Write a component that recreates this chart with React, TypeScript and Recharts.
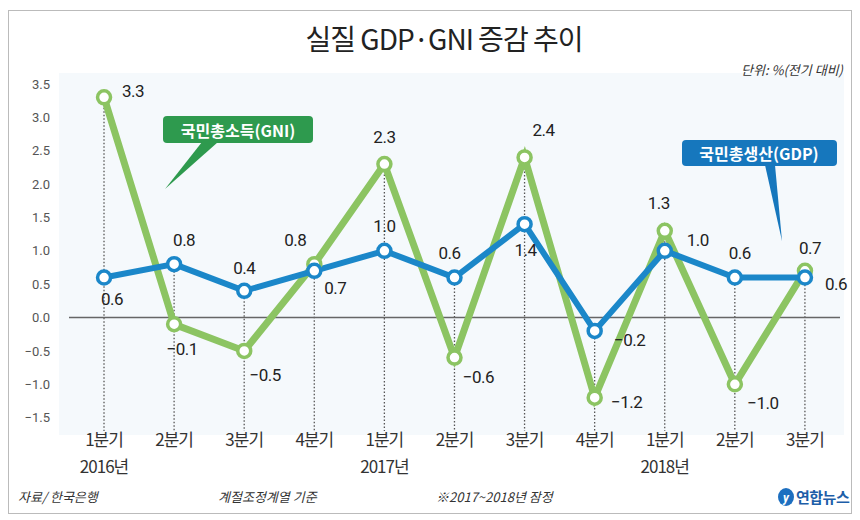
import { Bar, ComposedChart, Line, ReferenceLine, XAxis, YAxis } from 'recharts';

const quarters = ['1분기', '2분기', '3분기', '4분기', '1분기', '2분기', '3분기', '4분기', '1분기', '2분기', '3분기'];
const years = ['2016년', '', '', '', '2017년', '', '', '', '2018년', '', ''];
const gni = [3.3, -0.1, -0.5, 0.8, 2.3, -0.6, 2.4, -1.2, 1.3, -1.0, 0.7];
const gdp = [0.6, 0.8, 0.4, 0.7, 1.0, 0.6, 1.4, -0.2, 1.0, 0.6, 0.6];
const yTicks = [-1.5, -1.0, -0.5, 0.0, 0.5, 1.0, 1.5, 2.0, 2.5, 3.0, 3.5];

// label offsets (dx, dy) from each point
const gniLabelPos = [[29, -6], [8, 25], [21, 24], [-19, -24], [0, -27], [24, 19], [19, -27], [32, 4], [-6, -28], [28, 19], [5, -23]];
const gdpLabelPos = [[8, 21], [10, -24], [0, -23], [21, 17], [0, -25], [-5, -25], [1, 26], [35, 9], [33, -11], [5, -25], [31, 6]];

const Y_MIN = -1.7;
const GREEN = '#8cc462';
const BLUE = '#1b87c9';
const KR = '"Noto Sans CJK KR", "Noto Sans", sans-serif';
const NUM = 'Roboto, "Noto Sans", sans-serif';

const data = quarters.map((q, i) => ({
  idx: i,
  gni: gni[i],
  gdp: gdp[i],
  guide: [Y_MIN, Math.max(gni[i], gdp[i])],
}));

const fmt = (v: number) => (v < 0 ? '−' + Math.abs(v).toFixed(1) : v.toFixed(1));

const makeDot = (color: string, pos: number[][]) => (p: any) => {
  const { cx, cy, index, value } = p;
  const [dx, dy] = pos[index];
  return (
    <g key={`${color}-${index}`}>
      <circle cx={cx} cy={cy} r={6.5} fill="#fff" stroke={color} strokeWidth={3.5} />
      <text x={cx + dx} y={cy + dy} textAnchor="middle" dominantBaseline="central"
        fontFamily={NUM} fontSize={17} fill="#222" letterSpacing={-0.5}>
        {fmt(value)}
      </text>
    </g>
  );
};

const DottedGuide = (p: any) => {
  const cx = p.x + p.width / 2;
  return <line x1={cx} x2={cx} y1={p.y} y2={p.y + p.height} stroke="#555" strokeWidth={1.3} strokeDasharray="1.5 2" />;
};

const XTick = (p: any) => {
  const i = p.payload.value;
  return (
    <g>
      <text x={p.x} y={p.y + 15} textAnchor="middle" fontFamily={KR} fontSize={17} fill="#333" letterSpacing={-1}>{quarters[i]}</text>
      {years[i] && (
        <text x={p.x} y={p.y + 42} textAnchor="middle" fontFamily={KR} fontSize={17} fill="#333" letterSpacing={-1}>{years[i]}</text>
      )}
    </g>
  );
};

export default function App() {
  return (
    <div style={{ position: 'relative', width: 842, height: 502, marginTop: 2, border: '1px solid #bbb', background: '#fff' }}>
      <svg width={842} height={502} style={{ position: 'absolute', left: 0, top: 0 }}>
        <rect x={50} y={62} width={785} height={362} fill="#f5f9fc" />
      </svg>
      <div style={{ position: 'absolute', left: 0, top: 0 }}>
        <ComposedChart width={842} height={502} data={data} margin={{ top: 73, right: 11, bottom: 32, left: 0 }}>
          <XAxis dataKey="idx" axisLine={false} tickLine={false} tickSize={0} tickMargin={0} height={50} interval={0} tick={<XTick />} />
          <YAxis domain={[Y_MIN, 3.5]} ticks={yTicks} axisLine={false} tickLine={false} tickSize={0} tickMargin={19} width={60}
            tickFormatter={fmt} tick={{ fontSize: 13, fill: '#555', fontFamily: NUM }} />
          <Bar dataKey="guide" shape={<DottedGuide />} isAnimationActive={false} />
          <ReferenceLine y={0} stroke="#666" strokeWidth={1.5} />
          <Line dataKey="gni" stroke={GREEN} strokeWidth={7} dot={makeDot(GREEN, gniLabelPos)} activeDot={false} isAnimationActive={false} />
          <Line dataKey="gdp" stroke={BLUE} strokeWidth={6} dot={makeDot(BLUE, gdpLabelPos)} activeDot={false} isAnimationActive={false} />
        </ComposedChart>
      </div>
      <svg width={842} height={502} style={{ position: 'absolute', left: 0, top: 0, pointerEvents: 'none' }}>
        <text x={435} y={39} textAnchor="middle" fontFamily={KR} fontSize={28} fill="#222" letterSpacing={-1}>
          실질 GDP·GNI 증감 추이
        </text>
        <text x={834} y={64} textAnchor="end" fontFamily={KR} fontSize={13} fontStyle="italic" fill="#333">
          단위: %(전기 대비)
        </text>

        <rect x={154} y={105} width={150} height={27} rx={4} fill="#2e9a4e" />
        <polygon points="193,131 209,131 156,178" fill="#2e9a4e" />
        <text x={229} y={119} textAnchor="middle" dominantBaseline="central" fontFamily={KR} fontSize={16} fontWeight={700} fill="#fff">
          국민총소득(GNI)
        </text>

        <rect x={673} y={129} width={155} height={26} rx={4} fill="#1677bd" />
        <polygon points="756,154 766,154 773,230" fill="#1677bd" />
        <text x={750} y={142} textAnchor="middle" dominantBaseline="central" fontFamily={KR} fontSize={16} fontWeight={700} fill="#fff">
          국민총생산(GDP)
        </text>

        <text x={9} y={491} fontFamily={KR} fontSize={13} fontStyle="italic" fill="#333">자료/ 한국은행</text>
        <text x={209} y={491} fontFamily={KR} fontSize={13} fontStyle="italic" fill="#333">계절조정계열 기준</text>
        <text x={427} y={491} fontFamily={KR} fontSize={13} fontStyle="italic" fill="#333">※2017~2018년 잠정</text>
        <ellipse cx={777} cy={486} rx={8} ry={9} fill="#1d6fc0" />
        <text x={777} y={491} textAnchor="middle" fontFamily={NUM} fontSize={12} fontStyle="italic" fontWeight={700} fill="#fff">y</text>
        <text x={787} y={492} fontFamily={KR} fontSize={15} fontWeight={700} fill="#1d5ea8" letterSpacing={-0.5}>연합뉴스</text>
      </svg>
    </div>
  );
}
